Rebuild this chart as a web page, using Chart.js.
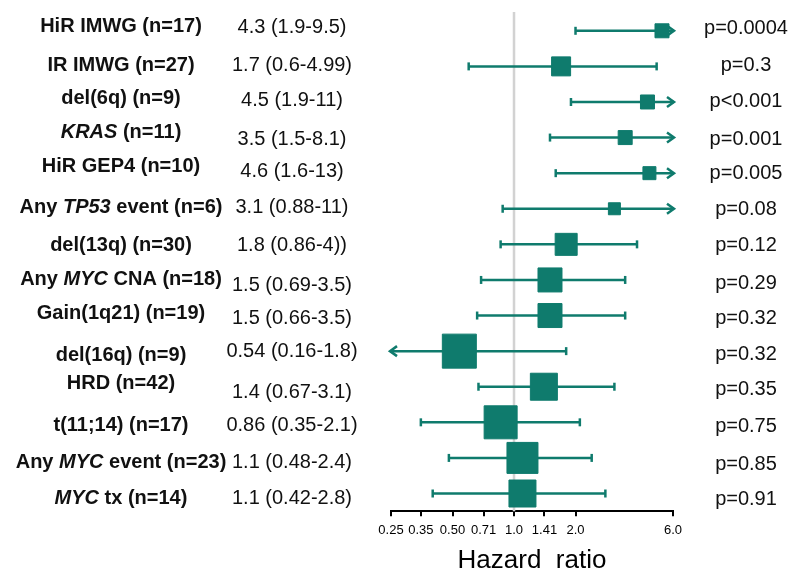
<!DOCTYPE html>
<html><head><meta charset="utf-8">
<script src="https://cdn.jsdelivr.net/npm/chart.js@4.4.0/dist/chart.umd.min.js"></script>
<style>html,body{margin:0;padding:0;background:#fff}#wrap{width:790px;height:569px;position:relative}</style>
</head><body><div id="wrap"><canvas id="c"></canvas></div>
<script>
// ---- data ----
const categories = ['HiR IMWG (n=17)', 'IR IMWG (n=27)', 'del(6q) (n=9)', '*KRAS* (n=11)', 'HiR GEP4 (n=10)', 'Any *TP53* event (n=6)', 'del(13q) (n=30)', 'Any *MYC* CNA (n=18)', 'Gain(1q21) (n=19)', 'del(16q) (n=9)', 'HRD (n=42)', 't(11;14) (n=17)', 'Any *MYC* event (n=23)', '*MYC* tx (n=14)'];
const hrText = ['4.3 (1.9-9.5)', '1.7 (0.6-4.99)', '4.5 (1.9-11)', '3.5 (1.5-8.1)', '4.6 (1.6-13)', '3.1 (0.88-11)', '1.8 (0.86-4))', '1.5 (0.69-3.5)', '1.5 (0.66-3.5)', '0.54 (0.16-1.8)', '1.4 (0.67-3.1)', '0.86 (0.35-2.1)', '1.1 (0.48-2.4)', '1.1 (0.42-2.8)'];
const hazardRatio = [5.3, 1.7, 4.5, 3.5, 4.6, 3.1, 1.8, 1.5, 1.5, 0.54, 1.4, 0.86, 1.1, 1.1];
const ciLower = [2.0, 0.6, 1.9, 1.5, 1.6, 0.88, 0.86, 0.69, 0.66, 0.16, 0.67, 0.35, 0.48, 0.40];
const ciUpper = [9.5, 4.99, 11, 8.1, 13, 11, 4.0, 3.5, 3.5, 1.8, 3.1, 2.1, 2.4, 2.8];
const pValues = ['p=0.0004', 'p=0.3', 'p<0.001', 'p=0.001', 'p=0.005', 'p=0.08', 'p=0.12', 'p=0.29', 'p=0.32', 'p=0.32', 'p=0.35', 'p=0.75', 'p=0.85', 'p=0.91'];
const tickValues = [0.25, 0.35, 0.5, 0.71, 1.0, 1.41, 2.0, 6.0];
const tickLabels = ['0.25', '0.35', '0.50', '0.71', '1.0', '1.41', '2.0', '6.0'];
const axisTitle = 'Hazard  ratio';

// ---- styling / layout ----
const TEAL = '#0f7b6d';
const FAMILY = '"Liberation Sans", Arial, Helvetica, sans-serif';
const markerSize = [14, 19, 14, 14, 13, 12, 22, 24, 24, 34, 27, 33, 31, 27];
const labelDy = [-6, -2.5, -5, -7, -8, -2.5, -1, -2.5, -3.5, 2.5, -4.5, 1.5, 3, 3];
const hrDy = [-5, -2.5, -3.5, 0, -3, -2.5, -1, 4, 1.5, -1.5, 4, 1.5, 3, 3];
const pDy = [-4, -2.5, -2, 0, -1.5, -0.5, -0.5, 2, 1.5, 1.5, 1.5, 3, 4.5, 4.5];
const LABEL_X = 121, HR_X = 292, P_X = 746, FS = 20;

function drawRich(ctx, str, cx, capY, size, bold) {
  const parts = str.split('*');
  const fonts = parts.map((p, k) => `${k % 2 ? 'italic ' : ''}${bold ? 'bold ' : ''}${size}px ${FAMILY}`);
  let w = 0;
  parts.forEach((p, k) => { ctx.font = fonts[k]; w += ctx.measureText(p).width; });
  let xx = cx - w / 2;
  const base = capY + size * 0.358;
  ctx.textAlign = 'left'; ctx.textBaseline = 'alphabetic';
  parts.forEach((p, k) => { ctx.font = fonts[k]; ctx.fillText(p, xx, base); xx += ctx.measureText(p).width; });
}

const forestPlugin = {
  id: 'forest',
  beforeDatasetsDraw(chart) {
    const { ctx, chartArea, scales: { x, y } } = chart;
    ctx.save();
    const x1 = x.getPixelForValue(1);
    ctx.strokeStyle = '#d2d2d2'; ctx.lineWidth = 2.5;
    ctx.beginPath(); ctx.moveTo(x1, chartArea.top - 1); ctx.lineTo(x1, chartArea.bottom); ctx.stroke();
    ctx.strokeStyle = TEAL; ctx.lineWidth = 2.5; ctx.lineCap = 'butt';
    categories.forEach((_, i) => {
      const yp = y.getPixelForValue(i);
      const lo = Math.max(ciLower[i], x.min), hi = Math.min(ciUpper[i], x.max);
      let xl = x.getPixelForValue(lo), xh = x.getPixelForValue(hi);
      const leftArrow = ciLower[i] < x.min, rightArrow = ciUpper[i] > x.max;
      if (leftArrow) xl -= 1; if (rightArrow) xh += 1;
      ctx.beginPath(); ctx.moveTo(xl, yp); ctx.lineTo(xh, yp); ctx.stroke();
      const end = (px, arrow, dir) => {
        ctx.beginPath();
        if (arrow) {
          ctx.moveTo(px - dir * 7, yp - 5); ctx.lineTo(px, yp); ctx.lineTo(px - dir * 7, yp + 5);
        } else {
          ctx.moveTo(px, yp - 4); ctx.lineTo(px, yp + 4);
        }
        ctx.stroke();
      };
      end(xl, leftArrow, -1);
      end(xh, rightArrow, 1);
    });
    ctx.restore();
  },
  afterDraw(chart) {
    const { ctx, scales: { y } } = chart;
    ctx.save();
    ctx.fillStyle = '#111';
    categories.forEach((lab, i) => {
      const yp = y.getPixelForValue(i);
      drawRich(ctx, lab, LABEL_X, yp + labelDy[i], FS, true);
      drawRich(ctx, hrText[i], HR_X, yp + hrDy[i], FS, false);
      drawRich(ctx, pValues[i], P_X, yp + pDy[i], FS, false);
    });
    ctx.restore();
  }
};

new Chart(document.getElementById('c'), {
  type: 'scatter',
  data: {
    datasets: [{
      data: hazardRatio.map((v, i) => ({ x: v, y: i })),
      pointStyle: 'rect',
      pointRadius: markerSize.map(s => s / Math.SQRT2),
      pointHoverRadius: markerSize.map(s => s / Math.SQRT2),
      backgroundColor: TEAL, borderColor: TEAL, borderWidth: 1,
      clip: false
    }]
  },
  options: {
    responsive: true, maintainAspectRatio: false, animation: false, events: [],
    layout: { autoPadding: false, padding: { left: 391, right: 117, top: 13, bottom: 0 } },
    plugins: { legend: { display: false }, tooltip: { enabled: false } },
    scales: {
      x: {
        type: 'logarithmic', min: 0.25, max: 6,
        afterBuildTicks: s => { s.ticks = tickValues.map(v => ({ value: v })); },
        ticks: { autoSkip: false, maxRotation: 0, padding: 6, color: '#000',
          font: { family: FAMILY, size: 13 },
          callback: (v, idx) => tickLabels[idx] },
        grid: { drawOnChartArea: false, drawTicks: true, tickLength: 5, color: '#000', lineWidth: 2 },
        border: { display: true, color: '#000', width: 2 },
        title: { display: true, text: axisTitle, color: '#000',
          font: { family: FAMILY, size: 26, lineHeight: 0.6 }, padding: { top: 9.5, bottom: 0 } }
      },
      y: { type: 'linear', min: -0.5, max: 13.5, reverse: true, display: false }
    }
  },
  plugins: [forestPlugin]
});
</script></body></html>
